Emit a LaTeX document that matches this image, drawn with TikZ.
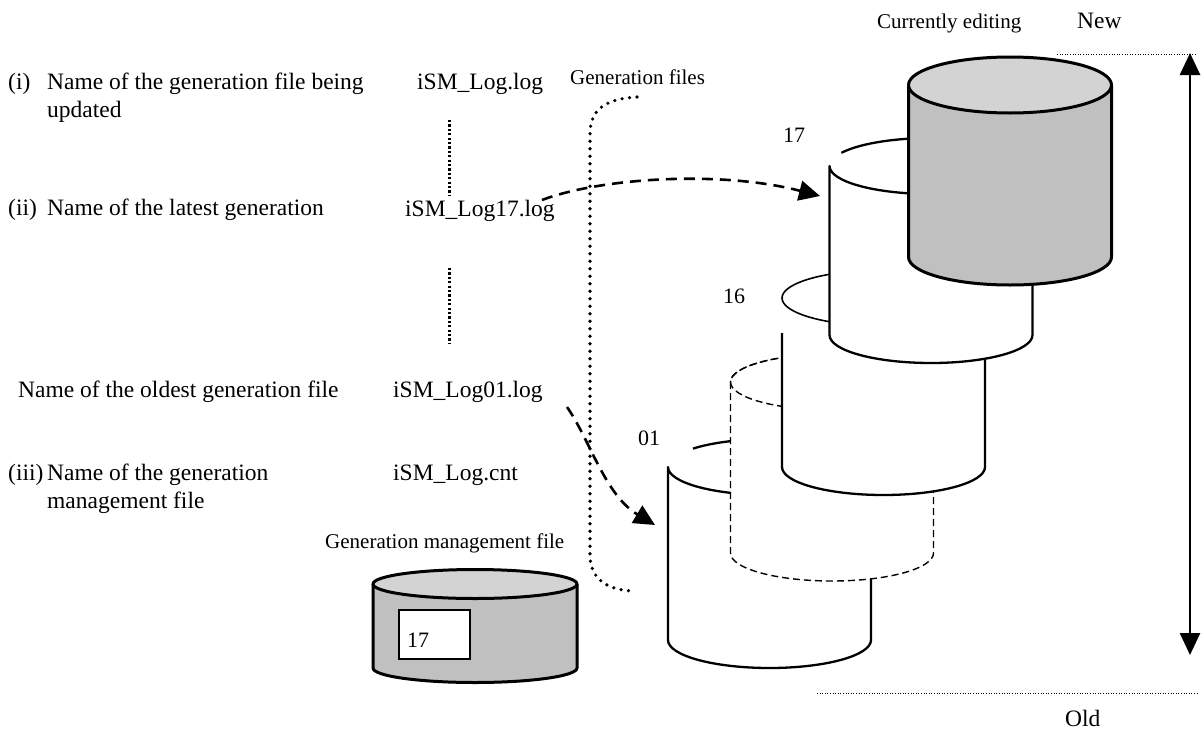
\documentclass[tikz,border=0pt]{standalone}
\usepackage{fontspec}
\setmainfont{Liberation Serif}
\usepackage{tikz}
\usetikzlibrary{arrows.meta, positioning}

\definecolor{drumtop}{HTML}{D3D3D3}
\definecolor{drumside}{HTML}{C0C0C0}

\tikzset{
	every node/.style={
		inner sep=0pt,
		anchor=base west,
	},
	item-text/.style={
		font=\fontsize{23.5}{28}\selectfont,
	},
	tag-text/.style={
		font=\fontsize{21}{25}\selectfont,
	},
	num-text/.style={
		font=\fontsize{22}{26}\selectfont,
	},
	drum-r/.style={x radius=101.5, y radius=28},
	cnt-r/.style={x radius=102, y radius=14.5},
	drum-line/.style={line width=2.3pt, line join=round},
	drum-thin/.style={line width=1.6pt},
	drum-dashed/.style={line width=1.4pt, dash pattern=on 7pt off 4pt},
	drum-gray/.style={line width=3pt, line join=round},
	name-dots/.style={line width=3pt, dash pattern=on 2.2pt off 2.2pt},
	group-dots/.style={line width=3.6pt, line cap=round, dash pattern=on 0pt off 7.5pt},
	edge-dots/.style={line width=0.9pt, dash pattern=on 1pt off 1.6pt},
	gen-arrow/.style={line width=2.6pt, dash pattern=on 11pt off 7pt, -{Triangle[length=21pt,width=20pt]}},
	age-arrow/.style={line width=2.6pt, {Triangle[length=22pt,width=20pt]}-{Triangle[length=22pt,width=20pt]}},
}

\begin{document}
\begin{tikzpicture}[x=1pt, y=1pt]
	\fill[white] (0,0) rectangle (1202,-731);
	\useasboundingbox (0,0) rectangle (1202,-731);

	% file names on the left
	\node (num-i) [item-text] at (8,-89) {(i)};
	\node (item-i) [item-text] at (47,-89) {Name of the generation file being};
	\node (item-i-b) [item-text] at (47,-117) {updated};
	\node (num-ii) [item-text] at (8,-215) {(ii)};
	\node (item-ii) [item-text] at (47,-215) {Name of the latest generation};
	\node (item-old) [item-text] at (18,-397) {Name of the oldest generation file};
	\node (num-iii) [item-text] at (8,-480) {(iii)};
	\node (item-iii) [item-text] at (47,-480) {Name of the generation};
	\node (item-iii-b) [item-text] at (47,-508) {management file};

	\node (log-cur) [item-text] at (417,-89) {iSM\_Log.log};
	\node (log-17) [item-text] at (405,-216) {iSM\_Log17.log};
	\node (log-01) [item-text] at (393,-397) {iSM\_Log01.log};
	\node (log-cnt) [item-text] at (393,-480) {iSM\_Log.cnt};

	\node (gen-files) [tag-text] at (570,-84) {Generation files};
	\node (cnt-file) [tag-text] at (325,-548) {Generation management file};
	\node (editing) [tag-text] at (877,-28) {Currently editing};
	\node (new) [item-text] at (1077,-28) {New};
	\node (old) [item-text] at (1065,-726) {Old};

	% generation 01
	\fill[white] (668,-467) -- (668,-640) arc[drum-r, start angle=180, end angle=360] -- (871,-467) arc[drum-r, start angle=0, end angle=180] -- cycle;
	\draw[drum-line] (871,-467) -- (871,-640) arc[drum-r, start angle=0, end angle=-180] -- (668,-467) arc[drum-r, start angle=180, end angle=360];
	\draw[drum-line] (769.5,-467) ++(139:101.5 and 28) arc[drum-r, start angle=139, end angle=0];

	% generations in between
	\filldraw[drum-dashed, fill=white] (730.5,-382) -- (730.5,-553) arc[drum-r, start angle=180, end angle=360] -- (933.5,-382) arc[drum-r, start angle=0, end angle=180] -- cycle;
	\draw[drum-dashed] (832,-382) ellipse[drum-r];

	% generation 16
	\fill[white] (782,-298) -- (782,-467) arc[drum-r, start angle=180, end angle=360] -- (985,-298) arc[drum-r, start angle=0, end angle=180] -- cycle;
	\draw[drum-line] (782,-333) -- (782,-467) arc[drum-r, start angle=180, end angle=360] -- (985,-298);
	\draw[drum-thin] (883.5,-298) ellipse[drum-r];

	% generation 17
	\fill[white] (829.5,-166) -- (829.5,-335) arc[drum-r, start angle=180, end angle=360] -- (1032.5,-166) arc[drum-r, start angle=0, end angle=180] -- cycle;
	\draw[drum-line] (1032.5,-166) -- (1032.5,-335) arc[drum-r, start angle=0, end angle=-180] -- (829.5,-166) arc[drum-r, start angle=180, end angle=360];
	\draw[drum-line] (931,-166) ++(152:101.5 and 28) arc[drum-r, start angle=152, end angle=0];

	% file being updated
	\fill[drumside] (908.5,-85) -- (908.5,-257) arc[drum-r, start angle=180, end angle=360] -- (1111.5,-85) -- cycle;
	\draw[drum-gray] (908.5,-85) -- (908.5,-257) arc[drum-r, start angle=180, end angle=360] -- (1111.5,-85);
	\filldraw[drum-gray, fill=drumtop] (1010,-85) ellipse[drum-r];

	\node (no-17) [num-text] at (783,-142) {17};
	\node (no-16) [num-text] at (723,-303) {16};
	\node (no-01) [num-text] at (638,-445) {01};

	% generation management file
	\fill[drumside] (373,-584) -- (373,-668) arc[cnt-r, start angle=180, end angle=360] -- (577,-584) -- cycle;
	\draw[drum-gray] (373,-584) -- (373,-668) arc[cnt-r, start angle=180, end angle=360] -- (577,-584);
	\filldraw[drum-gray, fill=drumtop] (475,-584) ellipse[cnt-r];
	\node (cnt-box) [draw, line width=1.5pt, fill=white, minimum width=71pt, minimum height=49pt, anchor=north west] at (398,-609) {};
	\node (cnt-no) [num-text] at (407,-647) {17};

	% connectors
	\coordinate (dots-a) at (449,-120);
	\coordinate (dots-b) at (449,-195);
	\coordinate (dots-c) at (449,-268);
	\coordinate (dots-d) at (449,-343);
	\draw[name-dots] (dots-a) -- (dots-b);
	\draw[name-dots] (dots-c) -- (dots-d);

	\coordinate (gen-top) at (637,-97);
	\coordinate (gen-bot) at (633,-591);
	\draw[group-dots] (gen-top) .. controls (604,-99) and (590,-110) .. (590,-135) -- (590,-555) .. controls (590,-578) and (606,-590) .. (gen-bot);

	\coordinate (from-17) at (542,-200);
	\coordinate (to-17) at (820,-196);
	\coordinate (from-01) at (567,-407);
	\coordinate (to-01) at (655,-525);
	\draw[gen-arrow] (from-17) .. controls (600,-178) and (720,-170) .. (to-17);
	\draw[gen-arrow] (from-01) .. controls (590,-440) and (605,-495) .. (to-01);

	% new / old scale
	\coordinate (new-a) at (1057,-54);
	\coordinate (new-b) at (1195,-54);
	\coordinate (old-a) at (817,-693);
	\coordinate (old-b) at (1197,-693);
	\draw[edge-dots] (new-a) -- (new-b);
	\draw[edge-dots] (old-a) -- (old-b);
	\coordinate (new-tip) at (1190,-53);
	\coordinate (old-tip) at (1190,-655);
	\draw[age-arrow] (old-tip) -- (new-tip);
\end{tikzpicture}
\end{document}
